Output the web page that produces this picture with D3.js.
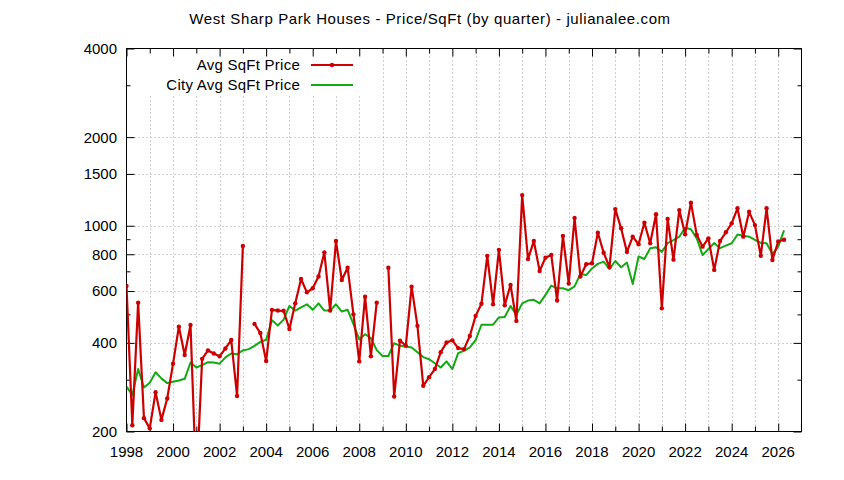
<html>
<head>
<meta charset="utf-8">
<script src="https://d3js.org/d3.v7.min.js"></script>
<style>
body { margin: 0; background: #fff; }
text { font-family: "Liberation Sans", Arial, sans-serif; font-size: 15px; fill: #000; }
</style>
</head>
<body>
<script>

// quarterly values, first quarter = 1998.0, null = no sales that quarter
var startYear = 1998
var avgPrice = [
  624, 210, 548, 222,
  205, 272, 219, 259,
  340, 454, 364, 460,
  130, 353, 377, 368,
  360, 383, 409, 264,
  853, null, 464, 432,
  347, 518, 515, 514,
  446, 545, 659, 594,
  613, 672, 812, 515,
  887, 654, 720, 500,
  346, 574, 360, 548,
  null, 720, 263, 407,
  391, 621, 457, 286,
  306, 326, 372, 401,
  408, 384, 381, 422,
  494, 543, 790, 541,
  828, 537, 629, 475,
  1271, 771, 887, 702,
  779, 796, 557, 923,
  636, 1062, 672, 740,
  746, 947, 810, 723,
  1139, 980, 815, 918,
  865, 1024, 872, 1094,
  524, 1054, 767, 1130,
  935, 1198, 931, 849,
  906, 708, 887, 950,
  1019, 1146, 918, 1115,
  1005, 790, 1146, 765,
  884, 896
]
var cityPrice = [
  284, 266, 326, 282,
  293, 318, 303, 292,
  295, 298, 302, 343,
  330, 336, 344, 343,
  340, 357, 368, 366,
  377, 381, 391, 403,
  410, 478, 458, 480,
  534, 515, 528, 541,
  518, 545, 515, 515,
  541, 511, 518, 463,
  411, 428, 415, 378,
  361, 361, 399, 391,
  389, 386, 372, 358,
  352, 341, 330, 346,
  326, 369, 376, 386,
  409, 461, 461, 461,
  488, 490, 534, 498,
  545, 557, 560, 545,
  582, 626, 613, 613,
  604, 622, 685, 680,
  716, 742, 755, 714,
  759, 723, 750, 634,
  786, 771, 839, 845,
  815, 872, 894, 918,
  985, 973, 906, 795,
  834, 874, 839, 856,
  872, 933, 924, 918,
  896, 874, 872, 801,
  849, 964
]
var yMajor = [200, 400, 600, 800, 1000, 1500, 2000, 4000]
var yMinor = [300, 500, 700, 900, 3000]
var xMajor = d3.range(1998, 2027, 2)
var xMinor = d3.range(1999, 2027, 2)
var seriesNames = ["Avg SqFt Price", "City Avg SqFt Price"]

var W = 844, H = 480
var pLeft = 126.5, pRight = 801.5, pTop = 48.5, pBottom = 431.5

var svg = d3.select("body").append("svg").attr("width", W).attr("height", H)

var x = d3.scaleLinear().domain([1998, 2027]).range([pLeft, pRight])
var y = d3.scaleLog().domain([200, 4000]).range([pBottom, pTop])

function toPoints(arr) {
  return arr.map(function(v, i) { return {t: startYear + i / 4, v: v} })
}

// grid
var grid = svg.append("g").attr("stroke", "#a0a0a0").attr("stroke-dasharray", "1,3").attr("stroke-width", 1)
grid.selectAll(".gx").data(xMajor.concat(xMinor).filter(function(d) { return d > 1998 }))
  .enter().append("line")
  .attr("x1", function(d) { return Math.round(x(d)) + 0.5 }).attr("x2", function(d) { return Math.round(x(d)) + 0.5 })
  .attr("y1", pTop).attr("y2", pBottom)
grid.selectAll(".gy").data(yMajor.filter(function(d) { return d > 200 && d < 4000 }))
  .enter().append("line")
  .attr("y1", function(d) { return Math.round(y(d)) + 0.5 }).attr("y2", function(d) { return Math.round(y(d)) + 0.5 })
  .attr("x1", pLeft).attr("x2", pRight)

// key box covers the grid
svg.append("rect").attr("x", 140).attr("y", 53).attr("width", 222).attr("height", 42).attr("fill", "#fff")

// axes with gnuplot style ticks (inside, mirrored)
function yAxis(g, vals, len, side) {
  g.call(d3.axisRight(y).tickValues(vals).tickSize(len * side).tickFormat(""))
  g.select(".domain").remove()
}
svg.append("g").attr("transform", "translate(" + pLeft + ",0)").call(yAxis, yMajor, 8, 1)
svg.append("g").attr("transform", "translate(" + pLeft + ",0)").call(yAxis, yMinor, 4, 1)
svg.append("g").attr("transform", "translate(" + pRight + ",0)").call(yAxis, yMajor, 8, -1)
svg.append("g").attr("transform", "translate(" + pRight + ",0)").call(yAxis, yMinor, 4, -1)

function xAxis(g, vals, len, side) {
  g.call(d3.axisBottom(x).tickValues(vals).tickSize(len * side).tickFormat(""))
  g.select(".domain").remove()
}
svg.append("g").attr("transform", "translate(0," + pBottom + ")").call(xAxis, xMajor, 8, -1)
svg.append("g").attr("transform", "translate(0," + pBottom + ")").call(xAxis, xMinor, 5, -1)
svg.append("g").attr("transform", "translate(0," + pTop + ")").call(xAxis, xMajor, 8, 1)
svg.append("g").attr("transform", "translate(0," + pTop + ")").call(xAxis, xMinor, 5, 1)
svg.selectAll(".tick line").attr("stroke", "#000")

svg.append("rect").attr("x", pLeft).attr("y", pTop).attr("width", pRight - pLeft).attr("height", pBottom - pTop)
  .attr("fill", "none").attr("stroke", "#000").attr("stroke-width", 1)

// tick labels
svg.selectAll(".ylab").data(yMajor).enter().append("text")
  .attr("x", 117).attr("y", function(d) { return y(d) })
  .attr("dy", "0.36em").attr("text-anchor", "end")
  .text(function(d) { return d })
svg.selectAll(".xlab").data(xMajor).enter().append("text")
  .attr("x", function(d) { return x(d) }).attr("y", 457)
  .attr("text-anchor", "middle")
  .text(function(d) { return d })

// data
svg.append("clipPath").attr("id", "plot").append("rect")
  .attr("x", pLeft).attr("y", pTop).attr("width", pRight - pLeft).attr("height", pBottom - pTop)
var plot = svg.append("g").attr("clip-path", "url(#plot)")

var line = d3.line()
  .defined(function(d) { return d.v != null })
  .x(function(d) { return x(d.t) })
  .y(function(d) { return y(d.v) })

var red = "#cc0000", green = "#14a814"

plot.append("path").datum(toPoints(cityPrice))
  .attr("fill", "none").attr("stroke", green).attr("stroke-width", 2).attr("stroke-linejoin", "round")
  .attr("d", line)

plot.append("path").datum(toPoints(avgPrice))
  .attr("fill", "none").attr("stroke", red).attr("stroke-width", 2.2).attr("stroke-linejoin", "round")
  .attr("d", line)

plot.selectAll(".dot").data(toPoints(avgPrice).filter(function(d) { return d.v != null }))
  .enter().append("circle")
  .attr("cx", function(d) { return x(d.t) }).attr("cy", function(d) { return y(d.v) })
  .attr("r", 2.2).attr("fill", red)

// key
var key = svg.selectAll(".key").data(seriesNames).enter().append("g")
  .attr("transform", function(d, i) { return "translate(0," + (65 + i * 20) + ")" })
key.append("text").attr("x", 300).attr("dy", "0.36em").attr("text-anchor", "end")
  .style("letter-spacing", "0.25px").text(function(d) { return d })
key.append("line").attr("x1", 311).attr("x2", 353).attr("y1", 0).attr("y2", 0)
  .attr("stroke", function(d, i) { return i == 0 ? red : green }).attr("stroke-width", 2)
key.filter(function(d, i) { return i == 0 }).append("circle").attr("cx", 332).attr("cy", 0).attr("r", 2.2).attr("fill", red)

// title
svg.append("text").attr("x", 430).attr("y", 24).attr("text-anchor", "middle")
  .style("letter-spacing", "0.6px")
  .text("West Sharp Park Houses - Price/SqFt (by quarter) - julianalee.com")

</script>
</body>
</html>
